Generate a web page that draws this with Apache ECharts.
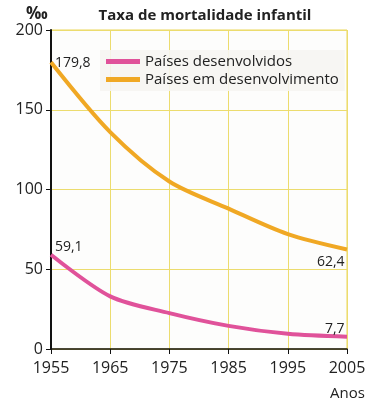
<!DOCTYPE html>
<html><head><meta charset="utf-8">
<script src="https://cdn.jsdelivr.net/npm/echarts@6/dist/echarts.min.js"></script>
<style>html,body{margin:0;padding:0;background:#fff}#c{width:370px;height:400px}</style>
</head><body><div id="c"></div>
<script>
const years = [1955, 1965, 1975, 1985, 1995, 2005];
const developed = [59.1, 33, 22.5, 14.5, 9.5, 7.7];
const developing = [179.8, 136, 105, 88, 72, 62.4];
const developedLabels = ['59,1', '', '', '', '', '7,7'];
const developingLabels = ['179,8', '', '', '', '', '62,4'];

const font = '"Open Sans", "Noto Sans", sans-serif';
const chart = echarts.init(document.getElementById('c'), null, {renderer: 'canvas'});
function pts(vals, labels, posFirst, posLast) {
  return years.map((y, i) => {
    const d = {value: [y, vals[i]]};
    if (labels[i]) {
      d.label = {show: true, formatter: labels[i]};
      if (i === 0) { d.label.position = posFirst; }
      if (i === years.length - 1) { d.label.position = posLast; }
    } else {
      d.label = {show: false};
    }
    return d;
  });
}
chart.setOption({
  animation: false,
  backgroundColor: '#fff',
  textStyle: {fontFamily: font},
  title: [
    {text: 'Taxa de mortalidade infantil', left: 200, top: 3, textAlign: 'center',
     textStyle: {fontFamily: font, fontSize: 15, fontWeight: 'bold', color: '#222'}},
    {text: '‰', left: 21, top: 1, textStyle: {fontFamily: font, fontSize: 17, fontWeight: 'bold', color: '#222'}},
    {text: 'Anos', left: 325, top: 381, textStyle: {fontFamily: font, fontSize: 15, fontWeight: 'normal', color: '#222'}}
  ],
  legend: {
    left: 100, top: 50, orient: 'vertical', itemGap: 3,
    itemWidth: 34, itemHeight: 5, backgroundColor: 'rgba(246,245,242,0.9)',
    padding: [4, 6, 4, 6],
    textStyle: {fontFamily: font, fontSize: 15, color: '#222'},
    data: [
      {name: 'Países desenvolvidos', icon: 'rect'},
      {name: 'Países em desenvolvimento', icon: 'rect'}
    ]
  },
  grid: {left: 51, right: 23, top: 30, bottom: 51, show: true, backgroundColor: '#fdfdfc', borderColor: '#ead75a', borderWidth: 1},
  xAxis: {
    type: 'value', min: 1955, max: 2005, interval: 10,
    axisLine: {lineStyle: {color: '#111', width: 1.5}},
    axisTick: {show: true, length: 5, lineStyle: {color: '#111'}},
    axisLabel: {fontFamily: font, fontSize: 16, color: '#222', margin: 11, formatter: v => String(v)},
    splitLine: {show: true, lineStyle: {color: '#ecdc6e', width: 1}}
  },
  yAxis: {
    type: 'value', min: 0, max: 200, interval: 50,
    axisLine: {show: true, lineStyle: {color: '#111', width: 2}},
    axisTick: {show: true, length: 5, lineStyle: {color: '#111'}},
    axisLabel: {fontFamily: font, fontSize: 16, color: '#222', margin: 8},
    splitLine: {show: true, lineStyle: {color: '#ecdc6e', width: 1}}
  },
  series: [
    {name: 'Países desenvolvidos', type: 'line', smooth: 0.3, symbol: 'circle', symbolSize: 0.1, showSymbol: true,
     color: '#e0529a', lineStyle: {width: 4, color: '#e0529a'},
     data: pts(developed, developedLabels, [4, -15], [-22, -15]),
     label: {fontFamily: font, fontSize: 14, color: '#222'}},
    {name: 'Países em desenvolvimento', type: 'line', smooth: 0.3, symbol: 'circle', symbolSize: 0.1, showSymbol: true,
     color: '#f0a824', lineStyle: {width: 4, color: '#f0a824'},
     data: pts(developing, developingLabels, [4, -6], [-30, 6]),
     label: {fontFamily: font, fontSize: 14, color: '#222'}}
  ]
});
</script></body></html>
